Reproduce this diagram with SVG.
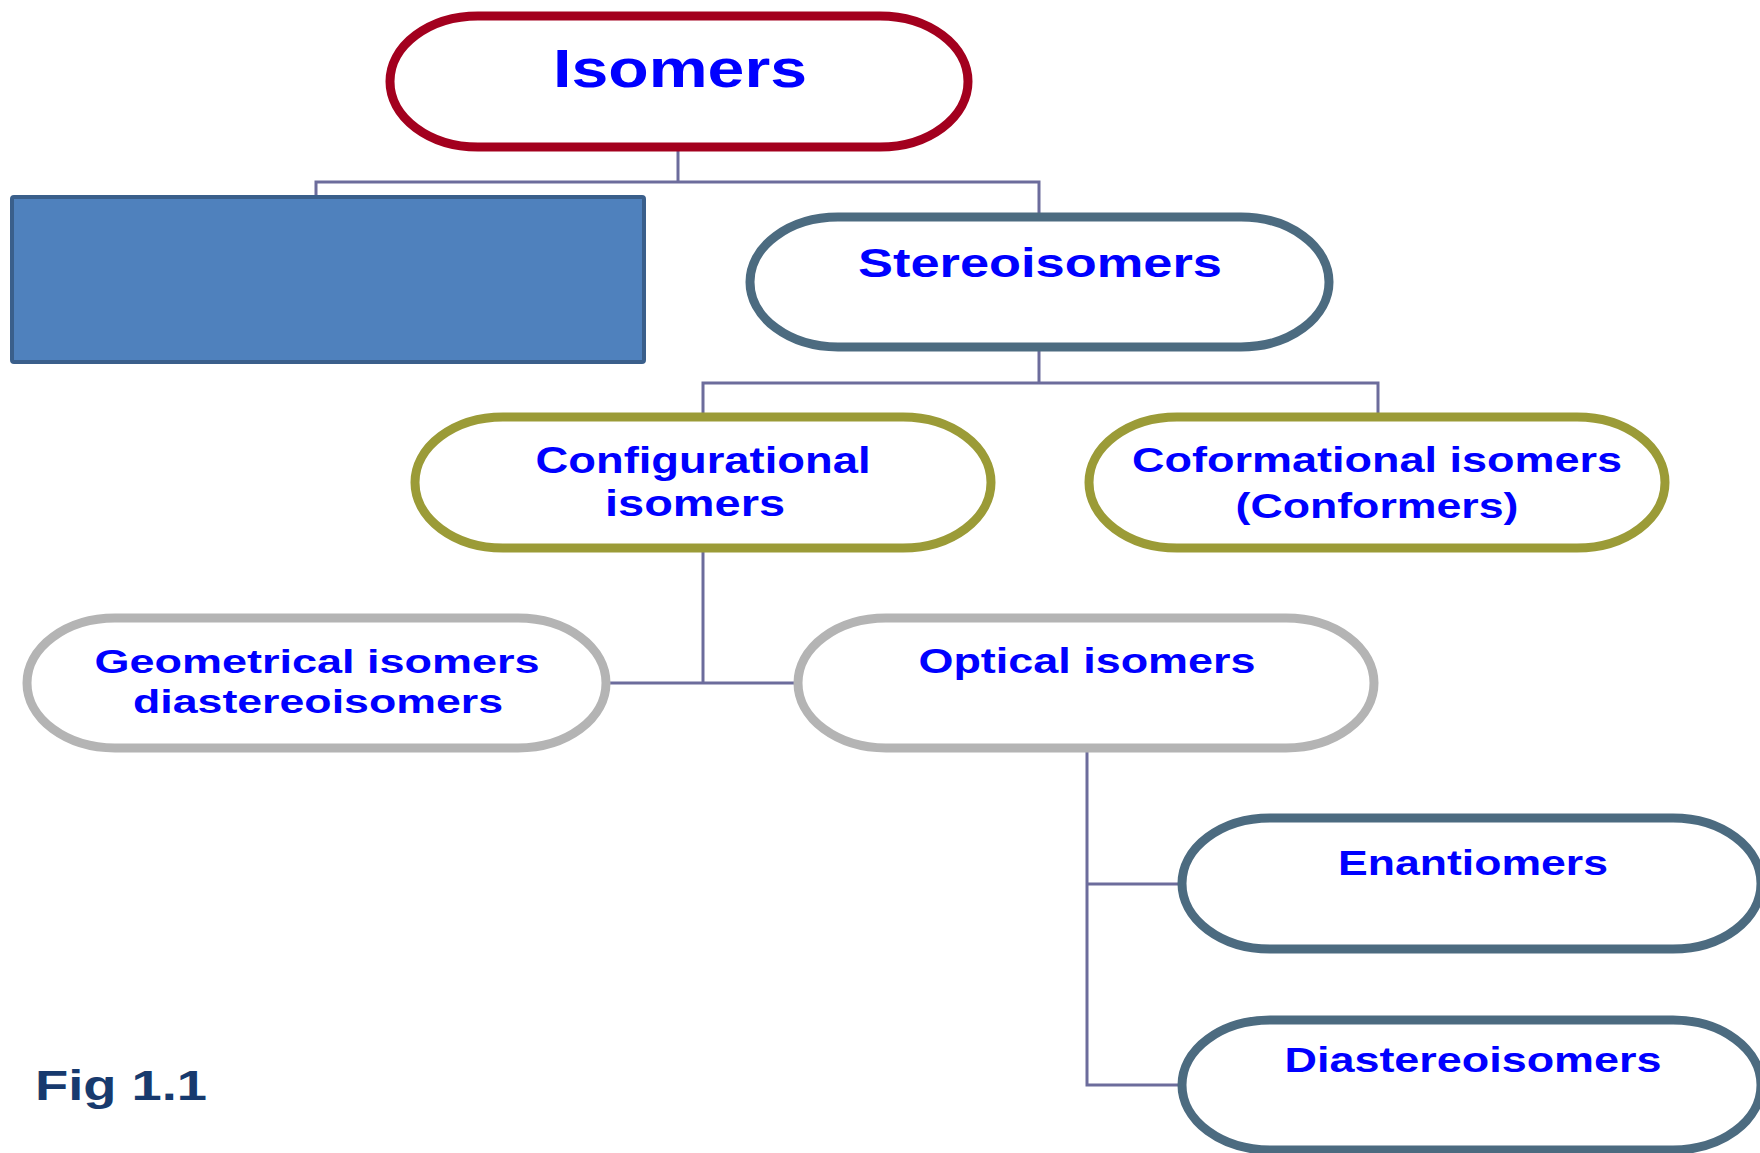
<svg xmlns="http://www.w3.org/2000/svg" width="1760" height="1153" viewBox="0 0 1760 1153">
  <style>
    .pill { fill: #ffffff; stroke-width: 9; }
    .red { stroke: #A3001E; }
    .slate { stroke: #4C6B80; }
    .olive { stroke: #9B9B37; }
    .grey { stroke: #B4B4B4; }
    .lbl { font-family: "Liberation Sans", Arial, sans-serif; font-weight: bold; fill: #0000FF; text-anchor: middle; }
    .wire { fill: none; stroke: #6C6C9C; stroke-width: 3; }
  </style>
  <rect width="1760" height="1153" fill="#ffffff"/>

  <g id="connectors">
    <path class="wire" d="M678 151 V182"/>
    <path class="wire" d="M316 197 V182 H1039 V217"/>
    <path class="wire" d="M1039 351 V383"/>
    <path class="wire" d="M703 417 V383 H1378 V417"/>
    <path class="wire" d="M703 552 V683"/>
    <path class="wire" d="M610 683 H798"/>
    <path class="wire" d="M1087 752 V1085 H1182"/>
    <path class="wire" d="M1087 884 H1182"/>
  </g>

  <g id="isomers">
    <rect class="pill red" x="390" y="16" width="578" height="131" rx="88" ry="65.5"/>
    <text class="lbl" x="680" y="87" font-size="53" textLength="254" lengthAdjust="spacingAndGlyphs">Isomers</text>
  </g>

  <g id="blank-box">
    <rect x="12" y="197" width="632" height="165" fill="#4F81BD" stroke="#3A5F8B" stroke-width="4" rx="2"/>
  </g>

  <g id="stereoisomers">
    <rect class="pill slate" x="750" y="217" width="579" height="130" rx="88" ry="65"/>
    <text class="lbl" x="1040" y="277" font-size="41" textLength="364" lengthAdjust="spacingAndGlyphs">Stereoisomers</text>
  </g>

  <g id="configurational">
    <rect class="pill olive" x="415" y="417" width="576" height="131" rx="88" ry="65.5"/>
    <text class="lbl" x="703" y="473" font-size="36" textLength="335" lengthAdjust="spacingAndGlyphs">Configurational</text>
    <text class="lbl" x="695" y="516" font-size="36" textLength="180" lengthAdjust="spacingAndGlyphs">isomers</text>
  </g>

  <g id="conformational">
    <rect class="pill olive" x="1089" y="417" width="576" height="131" rx="88" ry="65.5"/>
    <text class="lbl" x="1377" y="472" font-size="35" textLength="490" lengthAdjust="spacingAndGlyphs">Coformational isomers</text>
    <text class="lbl" x="1377" y="518" font-size="35" textLength="283" lengthAdjust="spacingAndGlyphs">(Conformers)</text>
  </g>

  <g id="geometrical">
    <rect class="pill grey" x="27" y="618" width="579" height="130" rx="88" ry="65"/>
    <text class="lbl" x="317" y="673" font-size="34" textLength="445" lengthAdjust="spacingAndGlyphs">Geometrical isomers</text>
    <text class="lbl" x="318" y="713" font-size="34" textLength="370" lengthAdjust="spacingAndGlyphs">diastereoisomers</text>
  </g>

  <g id="optical">
    <rect class="pill grey" x="798" y="618" width="576" height="130" rx="88" ry="65"/>
    <text class="lbl" x="1087" y="673" font-size="35" textLength="337" lengthAdjust="spacingAndGlyphs">Optical isomers</text>
  </g>

  <g id="enantiomers">
    <rect class="pill slate" x="1182" y="818" width="579" height="131" rx="88" ry="65.5"/>
    <text class="lbl" x="1473" y="875" font-size="35" textLength="270" lengthAdjust="spacingAndGlyphs">Enantiomers</text>
  </g>

  <g id="diastereoisomers">
    <rect class="pill slate" x="1182" y="1020" width="579" height="130" rx="88" ry="65"/>
    <text class="lbl" x="1473" y="1072" font-size="35" textLength="377" lengthAdjust="spacingAndGlyphs">Diastereoisomers</text>
  </g>

  <g id="caption">
    <text x="35" y="1100" font-family="'Liberation Sans', Arial, sans-serif" font-weight="bold" font-size="42" fill="#173A6E" textLength="172" lengthAdjust="spacingAndGlyphs">Fig 1.1</text>
  </g>
</svg>
